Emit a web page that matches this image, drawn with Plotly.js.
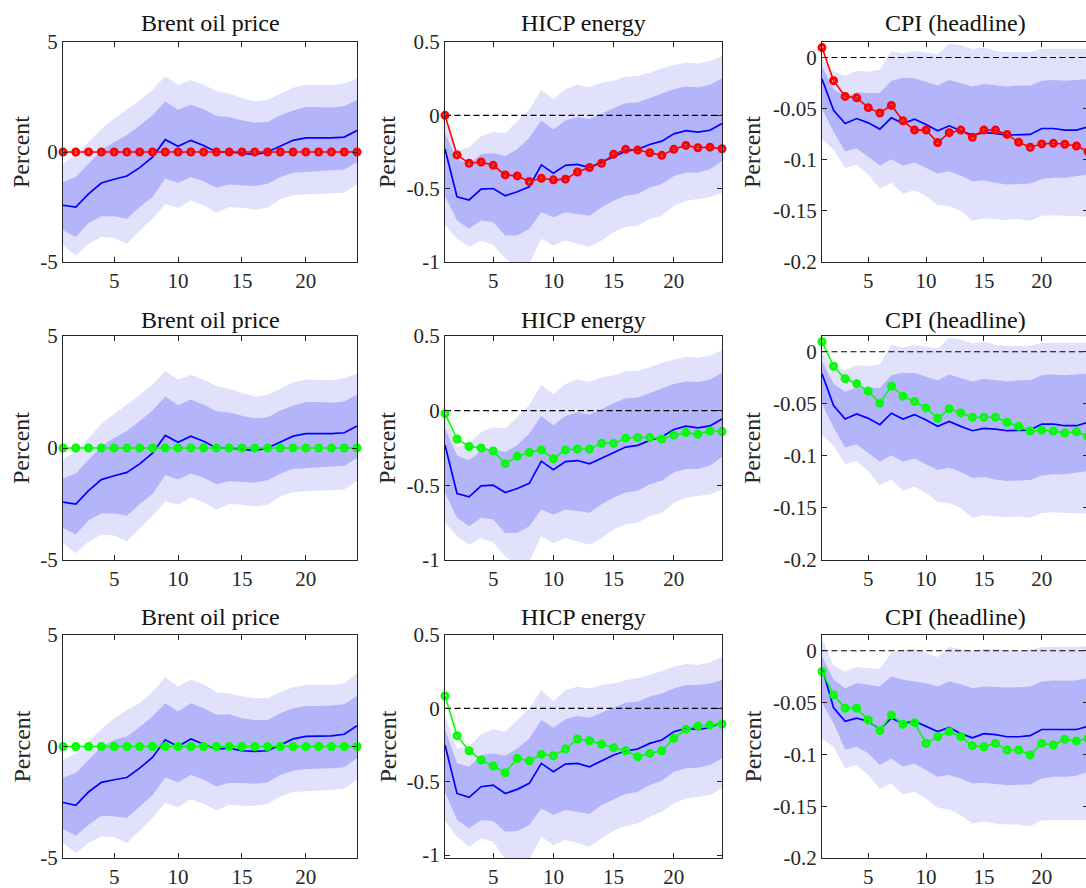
<!DOCTYPE html>
<html>
<head>
<meta charset="utf-8">
<script src="https://cdn.plot.ly/plotly-3.0.1.min.js"></script>
<style>
  html, body { margin: 0; padding: 0; overflow: hidden; background: #ffffff; }
  #chart { width: 1090px; height: 888px; }
</style>
</head>
<body>
<div id="chart"></div>
<script>
// ---------------- DATA ----------------
const periods = [1,2,3,4,5,6,7,8,9,10,11,12,13,14,15,16,17,18,19,20,21,22,23,24];

const panelTitles = ["Brent oil price", "HICP energy", "CPI (headline)"];
const yAxisLabel = "Percent";
const xTickVals = [5, 10, 15, 20];
const xTickText = ["5", "10", "15", "20"];
const brentTickVals = [-5, 0, 5];
const brentTickText = ["-5", "0", "5"];
const hicpTickVals = [-1, -0.5, 0, 0.5];
const hicpTickText = ["-1", "-0.5", "0", "0.5"];
const cpiTickVals = [-0.2, -0.15, -0.1, -0.05, 0];
const cpiTickText = ["-0.2", "-0.15", "-0.1", "-0.05", "0"];

// Brent oil price, baseline model bands (rows 1-2)
const brentMedA     = [-2.42,-2.50,-1.90,-1.41,-1.24,-1.09,-0.71,-0.23,0.56,0.26,0.53,0.30,0.00,0.00,-0.05,-0.12,0.00,0.27,0.53,0.64,0.64,0.64,0.68,0.98];
const brentDarkHiA  = [-1.36,-1.14,-0.53,0.08,0.45,0.76,1.21,1.67,2.30,1.92,2.15,1.94,1.64,1.59,1.44,1.33,1.36,1.67,1.89,2.05,2.05,2.02,2.08,2.38];
const brentDarkLoA  = [-3.56,-3.86,-3.23,-2.92,-2.92,-3.03,-2.50,-2.05,-1.21,-1.41,-1.14,-1.33,-1.62,-1.48,-1.52,-1.55,-1.44,-1.14,-0.94,-0.88,-0.86,-0.83,-0.80,-0.45];
const brentLightHiA = [-0.53,-0.15,0.45,1.06,1.52,1.92,2.35,2.83,3.44,3.06,3.26,3.06,2.77,2.65,2.45,2.30,2.38,2.65,2.92,3.06,3.06,3.03,3.11,3.33];
const brentLightLoA = [-4.24,-4.70,-4.17,-3.86,-3.91,-4.17,-3.59,-3.03,-2.38,-2.53,-2.20,-2.42,-2.76,-2.50,-2.53,-2.61,-2.53,-2.15,-1.97,-1.92,-1.89,-1.89,-1.85,-1.48];
// Brent oil price, row 3 bands
const brentMedB     = [-2.51,-2.64,-2.04,-1.61,-1.49,-1.39,-0.97,-0.49,0.30,0.00,0.34,0.12,-0.12,-0.07,-0.19,-0.22,-0.19,0.07,0.34,0.45,0.45,0.48,0.55,0.93];
const brentDarkHiB  = [-1.39,-1.19,-0.60,0.00,0.30,0.45,0.87,1.34,1.94,1.57,1.94,1.72,1.42,1.45,1.27,1.19,1.19,1.49,1.72,1.82,1.82,1.84,1.90,2.27];
const brentDarkLoB  = [-3.70,-4.00,-3.51,-3.10,-3.13,-3.21,-2.69,-2.19,-1.39,-1.60,-1.27,-1.49,-1.79,-1.64,-1.64,-1.67,-1.61,-1.27,-1.09,-1.01,-1.00,-0.97,-0.93,-0.52];
const brentLightHiB = [-0.60,-0.30,0.22,0.78,1.27,1.64,1.94,2.46,3.10,2.69,2.99,2.79,2.43,2.39,2.24,2.16,2.16,2.46,2.66,2.76,2.76,2.76,2.84,3.28];
const brentLightLoB = [-4.33,-4.78,-4.33,-4.03,-4.07,-4.33,-3.76,-3.21,-2.51,-2.72,-2.36,-2.57,-2.87,-2.61,-2.66,-2.66,-2.58,-2.24,-2.04,-1.99,-1.97,-1.94,-1.90,-1.49];

// HICP energy, baseline model bands (rows 1-2)
const hicpMedA     = [-0.23,-0.555,-0.577,-0.503,-0.499,-0.548,-0.521,-0.487,-0.338,-0.395,-0.341,-0.334,-0.356,-0.318,-0.277,-0.244,-0.232,-0.199,-0.176,-0.126,-0.104,-0.115,-0.102,-0.056];
const hicpDarkHiA  = [-0.12,-0.30,-0.334,-0.266,-0.259,-0.277,-0.232,-0.153,-0.036,-0.097,-0.036,-0.011,-0.025,0.009,0.05,0.083,0.088,0.117,0.147,0.178,0.196,0.192,0.208,0.253];
const hicpDarkLoA  = [-0.55,-0.717,-0.774,-0.717,-0.729,-0.819,-0.819,-0.774,-0.661,-0.695,-0.661,-0.672,-0.684,-0.627,-0.582,-0.548,-0.537,-0.492,-0.469,-0.413,-0.39,-0.39,-0.368,-0.311];
const hicpLightHiA = [-0.03,-0.244,-0.217,-0.142,-0.113,-0.12,-0.041,0.038,0.174,0.11,0.178,0.208,0.192,0.223,0.235,0.264,0.268,0.291,0.32,0.343,0.359,0.354,0.37,0.404];
const hicpLightLoA = [-0.75,-0.841,-0.898,-0.853,-0.882,-0.977,-1.03,-1.01,-0.841,-0.887,-0.853,-0.875,-0.898,-0.853,-0.796,-0.762,-0.751,-0.706,-0.684,-0.616,-0.582,-0.571,-0.559,-0.526];
// HICP energy, row 3 bands
const hicpMedB     = [-0.25,-0.58,-0.607,-0.534,-0.523,-0.58,-0.552,-0.511,-0.375,-0.432,-0.38,-0.375,-0.398,-0.357,-0.318,-0.291,-0.277,-0.239,-0.216,-0.159,-0.136,-0.143,-0.132,-0.091];
const hicpDarkHiB  = [-0.14,-0.375,-0.398,-0.318,-0.307,-0.323,-0.273,-0.205,-0.08,-0.132,-0.075,-0.052,-0.064,-0.03,0.007,0.039,0.045,0.08,0.102,0.136,0.159,0.159,0.17,0.193];
const hicpDarkLoB  = [-0.57,-0.761,-0.818,-0.761,-0.768,-0.841,-0.836,-0.795,-0.682,-0.727,-0.693,-0.705,-0.72,-0.659,-0.62,-0.584,-0.568,-0.523,-0.493,-0.432,-0.409,-0.405,-0.386,-0.341];
const hicpLightHiB = [-0.05,-0.273,-0.261,-0.177,-0.143,-0.159,-0.08,0.0,0.125,0.045,0.125,0.148,0.136,0.159,0.17,0.193,0.205,0.227,0.255,0.284,0.302,0.295,0.314,0.352];
const hicpLightLoB = [-0.77,-0.875,-0.943,-0.886,-0.909,-1.03,-1.04,-1.03,-0.875,-0.932,-0.898,-0.916,-0.943,-0.886,-0.834,-0.802,-0.784,-0.739,-0.705,-0.648,-0.614,-0.602,-0.591,-0.545];

// CPI (headline), baseline model bands (rows 1-2)
const cpiMedA     = [-0.021,-0.0516,-0.0645,-0.0597,-0.0639,-0.070,-0.059,-0.0645,-0.0603,-0.0655,-0.0716,-0.0668,-0.0716,-0.0758,-0.0735,-0.0742,-0.0758,-0.0752,-0.0752,-0.0694,-0.0694,-0.071,-0.071,-0.0677];
const cpiDarkHiA  = [-0.009,-0.0306,-0.0387,-0.0339,-0.0348,-0.0348,-0.0226,-0.020,-0.0203,-0.0242,-0.0274,-0.0219,-0.0252,-0.0284,-0.0258,-0.0274,-0.0284,-0.0274,-0.0274,-0.0226,-0.0219,-0.0226,-0.0219,-0.021];
const cpiDarkLoA  = [-0.050,-0.0726,-0.0919,-0.0887,-0.0968,-0.1055,-0.0994,-0.1055,-0.1026,-0.108,-0.1135,-0.1113,-0.1155,-0.121,-0.1203,-0.1226,-0.1242,-0.1235,-0.1232,-0.1187,-0.1177,-0.1177,-0.1161,-0.1145];
const cpiLightHiA = [-0.001,-0.0139,-0.0177,-0.0129,-0.0139,-0.0119,0.0065,0.0039,0.0065,0.0048,0.0032,0.0135,0.0119,0.0081,0.0097,0.0065,0.0055,0.0055,0.0055,0.0087,0.0087,0.0081,0.0087,0.0087];
const cpiLightLoA = [-0.080,-0.0903,-0.108,-0.1048,-0.1145,-0.1284,-0.1226,-0.1332,-0.1297,-0.1355,-0.1445,-0.1452,-0.150,-0.1597,-0.1571,-0.158,-0.159,-0.158,-0.1597,-0.1548,-0.1542,-0.1548,-0.1555,-0.1555];
// CPI (headline), row 3 bands
const cpiMedB     = [-0.016,-0.055,-0.068,-0.065,-0.068,-0.076,-0.065,-0.070,-0.068,-0.073,-0.078,-0.074,-0.080,-0.084,-0.080,-0.081,-0.083,-0.083,-0.082,-0.076,-0.076,-0.076,-0.076,-0.073];
const cpiDarkHiB  = [-0.005,-0.0281,-0.0361,-0.0313,-0.0329,-0.0345,-0.0248,-0.0281,-0.0297,-0.0313,-0.0345,-0.0297,-0.0323,-0.0361,-0.0345,-0.0352,-0.0355,-0.0352,-0.0345,-0.0297,-0.0287,-0.029,-0.0287,-0.0265];
const cpiDarkLoB  = [-0.050,-0.070,-0.0952,-0.0926,-0.099,-0.1103,-0.1039,-0.1119,-0.1087,-0.1152,-0.1216,-0.120,-0.1232,-0.1281,-0.1274,-0.1287,-0.1297,-0.1297,-0.129,-0.1232,-0.1216,-0.1216,-0.1206,-0.1168];
const cpiLightHiB = [0.012,-0.0145,-0.020,-0.0158,-0.0168,-0.0174,-0.0023,0.001,0.0019,-0.0023,-0.0061,0.0035,0.0019,-0.0006,0.0016,0.0016,0.0,0.0003,0.001,0.0035,0.0035,0.0035,0.0042,0.0042];
const cpiLightLoB = [-0.085,-0.0926,-0.1135,-0.1103,-0.120,-0.1335,-0.1281,-0.1384,-0.1361,-0.1426,-0.1516,-0.1532,-0.1587,-0.1668,-0.1645,-0.1668,-0.1677,-0.1677,-0.1694,-0.1635,-0.1629,-0.1629,-0.1635,-0.1635];

// Scenario paths (row 1 red, rows 2-3 green)
const brentRed    = [0,0,0,0,0,0,0,0,0,0,0,0,0,0,0,0,0,0,0,0,0,0,0,0];
const brentGreen2 = [0,0,0,0,0,0,0,0,0,0,0,0,0,0,0,0,0,0,0,0,0,0,0,0];
const brentGreen3 = [0,0,0,0,0,0,0,0,0,0,0,0,0,0,0,0,0,0,0,0,0,0,0,0];
const hicpRed     = [0.0,-0.27,-0.327,-0.318,-0.341,-0.406,-0.413,-0.451,-0.429,-0.44,-0.435,-0.386,-0.356,-0.327,-0.266,-0.232,-0.237,-0.255,-0.273,-0.232,-0.205,-0.221,-0.217,-0.228];
const hicpGreen2  = [-0.02,-0.19,-0.24,-0.25,-0.27,-0.355,-0.305,-0.28,-0.263,-0.322,-0.263,-0.257,-0.257,-0.219,-0.219,-0.184,-0.18,-0.18,-0.19,-0.164,-0.147,-0.158,-0.136,-0.14];
const hicpGreen3  = [0.084,-0.186,-0.289,-0.352,-0.393,-0.439,-0.341,-0.357,-0.314,-0.323,-0.277,-0.209,-0.22,-0.245,-0.268,-0.289,-0.33,-0.307,-0.289,-0.205,-0.143,-0.12,-0.114,-0.107];
const cpiRed      = [0.0097,-0.0226,-0.038,-0.0394,-0.049,-0.0542,-0.0468,-0.0619,-0.071,-0.071,-0.0832,-0.0735,-0.071,-0.078,-0.071,-0.071,-0.0752,-0.0829,-0.0877,-0.0845,-0.0839,-0.0848,-0.0865,-0.0919];
const cpiGreen2   = [0.0097,-0.0139,-0.0258,-0.0306,-0.0377,-0.0494,-0.0329,-0.0426,-0.0477,-0.0539,-0.0639,-0.0548,-0.0587,-0.0629,-0.0629,-0.0629,-0.0677,-0.0716,-0.0761,-0.0752,-0.0761,-0.0781,-0.0768,-0.0813];
const cpiGreen3   = [-0.02,-0.0426,-0.0555,-0.0555,-0.0668,-0.0771,-0.0619,-0.071,-0.0694,-0.0894,-0.0829,-0.0781,-0.0829,-0.0916,-0.0926,-0.0894,-0.0958,-0.0958,-0.1006,-0.0894,-0.091,-0.0855,-0.0871,-0.0845];

// ---------------- LAYOUT / STYLE ----------------
const W = 1090, H = 888;
const colPx = [[63, 357], [445, 722], [822, 1088]];
const rowPx = [[42, 262], [336, 560], [635, 858]];
const titleYPx = [23, 320, 617];
const ylabelXPx = [21, 387, 752];

const lightColor = "#e1e1fb";
const darkColor = "#b4b4fa";
const medColor = "#0000ff";
const redColor = "#ff0000";
const greenColor = "#00ff00";
const frameColor = "#262626";
const FONT = "'Liberation Serif', 'Times New Roman', serif";

const bandsA = {
  brent: [brentMedA, brentDarkHiA, brentDarkLoA, brentLightHiA, brentLightLoA],
  hicp: [hicpMedA, hicpDarkHiA, hicpDarkLoA, hicpLightHiA, hicpLightLoA],
  cpi: [cpiMedA, cpiDarkHiA, cpiDarkLoA, cpiLightHiA, cpiLightLoA]
};
const bandsB = {
  brent: [brentMedB, brentDarkHiB, brentDarkLoB, brentLightHiB, brentLightLoB],
  hicp: [hicpMedB, hicpDarkHiB, hicpDarkLoB, hicpLightHiB, hicpLightLoB],
  cpi: [cpiMedB, cpiDarkHiB, cpiDarkLoB, cpiLightHiB, cpiLightLoB]
};
const varKeys = ["brent", "hicp", "cpi"];
const rowBands = [bandsA, bandsA, bandsB];
const scenarios = [
  [brentRed, hicpRed, cpiRed],
  [brentGreen2, hicpGreen2, cpiGreen2],
  [brentGreen3, hicpGreen3, cpiGreen3]
];
const rowColors = [redColor, greenColor, greenColor];
const yRanges = [
  [[-5, 5], [-1, 0.5], [-0.2, 0.0152]],
  [[-5, 5], [-1, 0.5], [-0.2, 0.0152]],
  [[-5, 5], [-1.02, 0.5], [-0.2, 0.0152]]
];
const yTicks = [[brentTickVals, brentTickText], [hicpTickVals, hicpTickText], [cpiTickVals, cpiTickText]];

const traces = [];
const layout = {
  width: W, height: H,
  margin: {l: 0, r: 0, t: 0, b: 0},
  paper_bgcolor: "#ffffff",
  plot_bgcolor: "#ffffff",
  showlegend: false,
  font: {family: FONT, color: frameColor},
  annotations: []
};

const revP = periods.slice().reverse();

for (let r = 0; r < 3; r++) {
  for (let c = 0; c < 3; c++) {
    const k = r * 3 + c + 1;
    const xa = "x" + (k === 1 ? "" : k);
    const ya = "y" + (k === 1 ? "" : k);
    const b = rowBands[r][varKeys[c]];
    const [med, dHi, dLo, lHi, lLo] = b;

    traces.push({
      x: periods.concat(revP), y: lHi.concat(lLo.slice().reverse()),
      xaxis: xa, yaxis: ya, type: "scatter", mode: "lines",
      fill: "toself", fillcolor: lightColor, line: {width: 0, color: lightColor},
      hoverinfo: "skip"
    });
    traces.push({
      x: periods.concat(revP), y: dHi.concat(dLo.slice().reverse()),
      xaxis: xa, yaxis: ya, type: "scatter", mode: "lines",
      fill: "toself", fillcolor: darkColor, line: {width: 0, color: darkColor},
      hoverinfo: "skip"
    });
    traces.push({
      x: periods, y: med, xaxis: xa, yaxis: ya, type: "scatter", mode: "lines",
      line: {color: medColor, width: 1.7}
    });
    if (c > 0) {
      traces.push({
        x: [periods[0], periods[periods.length - 1]], y: [0, 0],
        xaxis: xa, yaxis: ya, type: "scatter", mode: "lines",
        line: {color: "#000000", width: 1.1, dash: "6px,3.5px"}
      });
    }
    traces.push({
      x: periods, y: scenarios[r][c], xaxis: xa, yaxis: ya,
      type: "scatter", mode: "lines+markers", cliponaxis: false,
      line: {color: rowColors[r], width: 1.6},
      marker: {symbol: "circle-open", size: 6, color: rowColors[r], line: {width: 3, color: rowColors[r]}}
    });

    const xKey = "xaxis" + (k === 1 ? "" : k);
    const yKey = "yaxis" + (k === 1 ? "" : k);
    layout[xKey] = {
      domain: [colPx[c][0] / W, colPx[c][1] / W],
      anchor: ya, range: [1, 24],
      tickmode: "array", tickvals: xTickVals, ticktext: xTickText,
      ticks: "inside", ticklen: 5, tickwidth: 1, tickcolor: frameColor,
      showline: true, linecolor: frameColor, linewidth: 1, mirror: "ticks",
      showgrid: false, zeroline: false, fixedrange: true,
      tickfont: {family: FONT, size: 21, color: frameColor}
    };
    layout[yKey] = {
      domain: [1 - rowPx[r][1] / H, 1 - rowPx[r][0] / H],
      anchor: xa, range: yRanges[r][c],
      tickmode: "array", tickvals: yTicks[c][0], ticktext: yTicks[c][1],
      ticks: "inside", ticklen: 5, tickwidth: 1, tickcolor: frameColor,
      showline: true, linecolor: frameColor, linewidth: 1, mirror: "ticks",
      showgrid: false, zeroline: false, fixedrange: true,
      tickfont: {family: FONT, size: 21, color: frameColor}
    };

    layout.annotations.push({
      xref: "paper", yref: "paper",
      x: (colPx[c][0] + colPx[c][1]) / 2 / W, y: 1 - titleYPx[r] / H,
      xanchor: "center", yanchor: "middle", showarrow: false,
      text: panelTitles[c], font: {family: FONT, size: 24, color: "#111111"}
    });
    layout.annotations.push({
      xref: "paper", yref: "paper",
      x: ylabelXPx[c] / W, y: 1 - (rowPx[r][0] + rowPx[r][1]) / 2 / H,
      xanchor: "center", yanchor: "middle", showarrow: false, textangle: -90,
      text: yAxisLabel, font: {family: FONT, size: 24, color: frameColor}
    });
  }
}

Plotly.newPlot("chart", traces, layout, {displayModeBar: false, staticPlot: true});
</script>
</body>
</html>
